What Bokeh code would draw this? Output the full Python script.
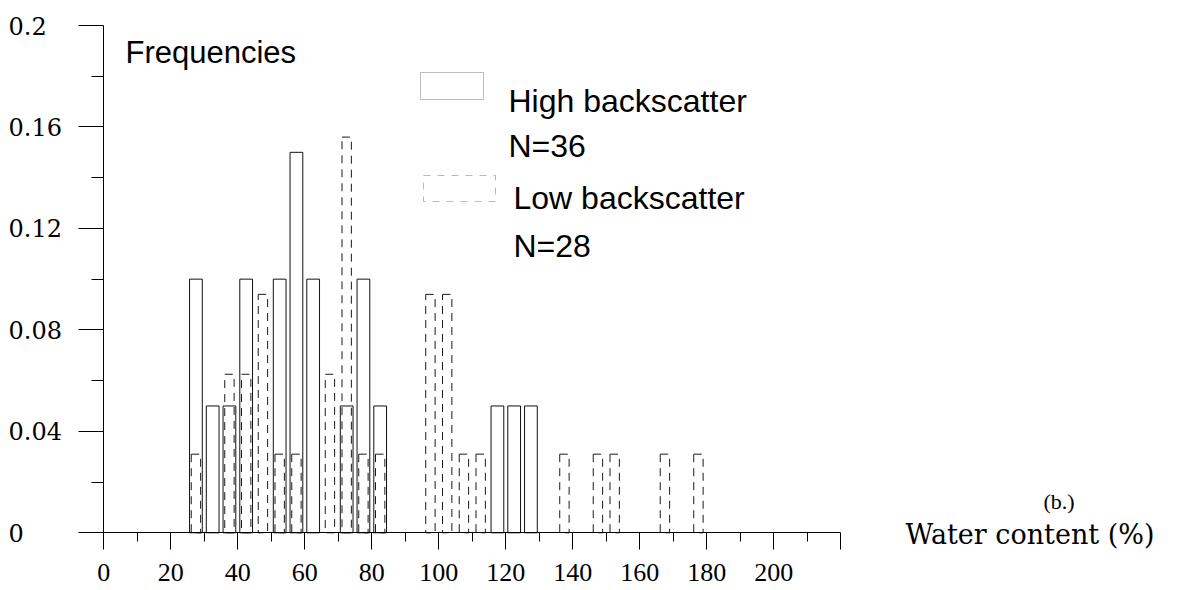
from bokeh.plotting import figure
from bokeh.models import LinearAxis, FixedTicker, Range1d, Label, BoxAnnotation
from bokeh.embed import file_html
from bokeh.resources import INLINE

# ---------------- data ----------------
high_x = [27.5, 32.5, 37.5, 42.5, 52.5, 57.5, 62.5, 72.5, 77.5, 82.5, 117.5, 122.5, 127.5]
high_freq = [0.10, 0.05, 0.05, 0.10, 0.10, 0.15, 0.10, 0.05, 0.10, 0.05, 0.05, 0.05, 0.05]

low_x = [27.5, 37.5, 42.5, 47.5, 52.5, 57.5, 67.5, 72.5, 77.5, 82.5,
         97.5, 102.5, 107.5, 112.5, 137.5, 147.5, 152.5, 167.5, 177.5]
low_freq = [0.031, 0.0625, 0.0625, 0.094, 0.031, 0.031, 0.0625, 0.156, 0.031, 0.031,
            0.094, 0.094, 0.031, 0.031, 0.031, 0.031, 0.031, 0.031, 0.031]

x_ticks = [0, 20, 40, 60, 80, 100, 120, 140, 160, 180, 200]
x_tick_labels = ["0", "20", "40", "60", "80", "100", "120", "140", "160", "180", "200"]
x_axis_end = 220
y_ticks = [0, 0.04, 0.08, 0.12, 0.16, 0.2]
y_tick_labels = ["0", "0.04", "0.08", "0.12", "0.16", "0.2"]

legend_labels = ["High backscatter", "Low backscatter"]
legend_counts = ["N=36", "N=28"]
y_title = "Frequencies"
x_title = "Water content (%)"
panel_tag = "(b.)"

# ---------------- layout ----------------
W, H = 1181, 590
X0, SX = 103.3, 3.35        # pixel of x=0, px per unit
Y0, SY = 532.3, 2536.5      # pixel of y=0, px per unit


def X(px):
    return (px - X0) / SX


def Y(py):
    return (Y0 - py) / SY


p = figure(width=W, height=H, x_range=Range1d(X(0), X(W)), y_range=Range1d(Y(H), Y(0)),
           min_border=0, outline_line_color=None, toolbar_location=None,
           output_backend="svg", x_axis_type=None, y_axis_type=None,
           background_fill_color="white", border_fill_color="white")
p.xgrid.visible = False
p.ygrid.visible = False

# x axis
xt = x_ticks + [x_axis_end]
xaxis = LinearAxis(fixed_location=0,
                   ticker=FixedTicker(ticks=xt, minor_ticks=[t + 10 for t in xt[:-1]]),
                   bounds=(0, x_axis_end),
                   major_label_overrides={**{t: l for t, l in zip(x_ticks, x_tick_labels)}, x_axis_end: ""},
                   axis_line_color="black", axis_line_width=1,
                   major_tick_in=0, major_tick_out=17, minor_tick_in=0, minor_tick_out=9,
                   major_tick_line_color="black", minor_tick_line_color="black",
                   major_label_standoff=14,
                   major_label_text_font="Liberation Serif",
                   major_label_text_font_size="26px",
                   major_label_text_color="black")
p.add_layout(xaxis, "below")

# y axis
yaxis = LinearAxis(fixed_location=0,
                   ticker=FixedTicker(ticks=y_ticks,
                                      minor_ticks=[round(t + 0.02, 2) for t in y_ticks[:-1]]),
                   bounds=(0, 0.2),
                   major_label_overrides={t: "" for t in y_ticks},
                   axis_line_color="black", axis_line_width=1,
                   major_tick_in=0, major_tick_out=25, minor_tick_in=0, minor_tick_out=12,
                   major_tick_line_color="black", minor_tick_line_color="black")
p.add_layout(yaxis, "left")

for t, lbl in zip(y_ticks, y_tick_labels):
    p.add_layout(Label(x=X(8), y=t, text=lbl, text_font="DejaVu Serif",
                       text_font_size="24px", text_baseline="middle", text_align="left",
                       text_color="black"))

# bars
p.vbar(x=high_x, top=high_freq, bottom=0, width=3.8, fill_color=None,
       line_color="#111111", line_width=1)
p.vbar(x=low_x, top=low_freq, bottom=0, width=2.8, fill_color=None,
       line_color="#1a1a1a", line_width=1, line_dash="8 6")

# legend
p.add_layout(BoxAnnotation(left=X(420), right=X(483), top=Y(72), bottom=Y(99),
                           fill_alpha=0, fill_color=None, line_color="#222222", line_width=1))
p.add_layout(BoxAnnotation(left=X(423), right=X(495), top=Y(175), bottom=Y(201),
                           fill_alpha=0, fill_color=None, line_color="#1a1a1a", line_width=1,
                           line_dash="7 7"))

sans = dict(text_font="Liberation Sans", text_font_size="32px", text_color="black",
            text_baseline="alphabetic", text_align="left")
p.add_layout(Label(x=X(508), y=Y(100), text=legend_labels[0], **sans))
p.add_layout(Label(x=X(508), y=Y(145), text=legend_counts[0], **sans))
p.add_layout(Label(x=X(513), y=Y(197), text=legend_labels[1], **sans))
p.add_layout(Label(x=X(513), y=Y(245), text=legend_counts[1], **sans))

p.add_layout(Label(x=X(125), y=Y(52), text=y_title, text_font="Liberation Sans",
                   text_font_size="31px", text_color="black", text_baseline="alphabetic"))
p.add_layout(Label(x=X(905), y=Y(534), text=x_title, text_font="DejaVu Serif",
                   text_font_size="27px", text_color="black", text_baseline="alphabetic"))
p.add_layout(Label(x=X(1043), y=Y(501), text=panel_tag, text_font="Liberation Serif",
                   text_font_size="22px", text_color="black", text_baseline="alphabetic"))

open("out.html", "w").write(file_html(p, INLINE))
